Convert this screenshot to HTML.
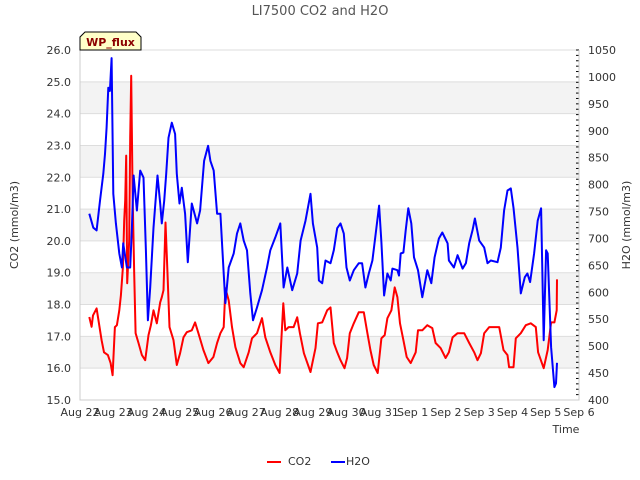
<!DOCTYPE html>
<html><head><meta charset="utf-8">
<style>
body{margin:0;background:#fff;}
svg{display:block;font-family:"DejaVu Sans","Liberation Sans",sans-serif;}
</style></head>
<body>
<svg id="chart" width="640" height="480" viewBox="0 0 640 480">
<text x="320" y="15" text-anchor="middle" font-size="13" fill="#555">LI7500 CO2 and H2O</text>
<g id="bands"></g><g id="grid"></g><g id="axes"></g><g id="series"></g>
<text transform="translate(18,225) rotate(-90)" text-anchor="middle" font-size="11" fill="#333">CO2 (mmol/m3)</text>
<text transform="translate(630,225) rotate(-90)" text-anchor="middle" font-size="11" fill="#333">H2O (mmol/m3)</text>
<text x="566" y="433" text-anchor="middle" font-size="11" fill="#333">Time</text>
<g>
<path d="M80,50 L80,37 L85,32 L136,32 L141,37 L141,50 Z" fill="#ffffc8" stroke="#000" stroke-width="1"/>
<text x="110.5" y="46" text-anchor="middle" font-size="11" font-weight="bold" fill="#8b0000">WP_flux</text>
</g>
<g>
<g><line x1="267" y1="462" x2="281" y2="462" stroke="#f00" stroke-width="2"/><text x="288" y="465" font-size="11" fill="#333">CO2</text></g>
<g><line x1="331" y1="462" x2="345" y2="462" stroke="#00f" stroke-width="2"/><text x="346" y="465" font-size="11" fill="#333">H2O</text></g>
</g>
</svg>
<script>
const xLabels=["Aug 22","Aug 23","Aug 24","Aug 25","Aug 26","Aug 27","Aug 28","Aug 29","Aug 30","Aug 31","Sep 1","Sep 2","Sep 3","Sep 4","Sep 5","Sep 6"];
const leftTicks=[15,16,17,18,19,20,21,22,23,24,25,26];
const rightTicks=[400,450,500,550,600,650,700,750,800,850,900,950,1000,1050];
const co2Days=[0.28,0.35,0.39,0.50,0.54,0.65,0.72,0.84,0.92,0.98,1.05,1.11,1.18,1.23,1.29,1.33,1.36,1.39,1.42,1.48,1.51,1.54,1.58,1.63,1.67,1.76,1.86,1.96,2.06,2.13,2.21,2.31,2.41,2.46,2.51,2.57,2.63,2.69,2.81,2.91,3.01,3.11,3.21,3.36,3.46,3.56,3.71,3.86,4.01,4.12,4.22,4.32,4.37,4.47,4.57,4.67,4.82,4.92,5.07,5.17,5.32,5.47,5.57,5.72,5.87,6.00,6.11,6.17,6.27,6.42,6.53,6.61,6.73,6.93,7.08,7.15,7.28,7.43,7.53,7.63,7.73,7.83,7.95,8.03,8.11,8.23,8.38,8.53,8.64,8.73,8.83,8.95,9.06,9.16,9.24,9.36,9.46,9.54,9.62,9.72,9.82,9.94,10.09,10.16,10.29,10.44,10.59,10.69,10.84,10.99,11.09,11.20,11.35,11.55,11.70,11.85,11.95,12.05,12.15,12.30,12.45,12.60,12.73,12.85,12.90,13.03,13.10,13.25,13.40,13.55,13.70,13.77,13.94,14.06,14.16,14.26,14.33,14.34];
const co2Values=[17.61,17.30,17.66,17.88,17.60,16.88,16.50,16.41,16.16,15.78,17.29,17.35,17.82,18.29,19.17,20.64,21.27,22.68,18.67,20.01,23.24,25.19,21.49,18.98,17.10,16.79,16.41,16.25,17.04,17.35,17.82,17.41,18.07,18.23,18.45,20.58,18.98,17.29,16.88,16.10,16.47,16.97,17.13,17.19,17.44,17.10,16.57,16.16,16.35,16.79,17.10,17.29,18.51,18.13,17.29,16.66,16.16,16.03,16.50,16.94,17.10,17.57,16.97,16.50,16.10,15.85,18.04,17.19,17.29,17.29,17.60,17.10,16.47,15.88,16.63,17.41,17.44,17.82,17.91,16.79,16.50,16.25,16.00,16.32,17.10,17.41,17.76,17.76,17.10,16.57,16.10,15.85,16.94,17.04,17.57,17.82,18.54,18.23,17.41,16.88,16.35,16.16,16.50,17.19,17.19,17.35,17.26,16.79,16.63,16.32,16.50,16.97,17.10,17.10,16.79,16.50,16.25,16.47,17.10,17.29,17.29,17.29,16.57,16.41,16.03,16.03,16.94,17.10,17.35,17.41,17.29,16.50,16.00,16.57,17.44,17.44,17.82,18.79];
const h2oDays=[0.28,0.40,0.50,0.60,0.70,0.75,0.80,0.85,0.90,0.95,1.00,1.08,1.18,1.26,1.30,1.41,1.51,1.56,1.61,1.71,1.81,1.91,1.98,2.04,2.11,2.21,2.33,2.41,2.46,2.53,2.59,2.66,2.76,2.86,2.91,2.99,3.06,3.16,3.24,3.36,3.52,3.61,3.73,3.85,3.92,4.02,4.12,4.22,4.32,4.37,4.47,4.62,4.72,4.82,4.92,5.02,5.12,5.20,5.32,5.47,5.62,5.72,5.87,6.02,6.12,6.23,6.38,6.53,6.63,6.78,6.93,7.00,7.13,7.18,7.28,7.38,7.53,7.63,7.73,7.83,7.93,8.01,8.11,8.23,8.38,8.48,8.58,8.68,8.79,8.89,8.99,9.06,9.14,9.24,9.34,9.39,9.54,9.59,9.64,9.72,9.79,9.87,9.96,10.04,10.16,10.29,10.44,10.56,10.66,10.79,10.89,11.05,11.09,11.24,11.35,11.50,11.60,11.70,11.80,11.87,12.00,12.15,12.25,12.35,12.55,12.65,12.75,12.85,12.95,13.03,13.15,13.25,13.37,13.45,13.53,13.65,13.76,13.86,13.94,14.01,14.06,14.16,14.26,14.31,14.34];
const h2oValues=[746,720,715,770,820,857,906,980,974,1035,783,728,672,646,691,646,646,720,817,752,826,813,678,548,609,720,817,765,728,770,820,887,915,894,820,765,794,746,656,765,728,752,844,872,844,826,746,746,635,580,646,672,709,728,696,678,598,548,572,604,646,678,702,728,609,646,604,635,696,733,783,728,683,622,617,659,654,678,719,728,709,646,622,641,654,654,609,635,659,709,761,693,594,635,622,644,641,631,672,674,715,756,728,665,641,591,641,617,665,700,711,691,659,646,669,644,654,691,715,737,696,683,654,659,656,683,752,789,793,757,683,598,628,635,619,672,733,756,511,678,672,498,424,431,469];

const NS="http://www.w3.org/2000/svg";
const X0=80,X1=579,YT=50,YB=400;
const xScale=d=>X0+d*(X1-X0)/15;
const yL=v=>YB-(v-15)*(YB-YT)/11;
const yR=v=>YB-(v-400)*(YB-YT)/650;
function mk(tag,attrs,parent){const e=document.createElementNS(NS,tag);for(const k in attrs)e.setAttribute(k,attrs[k]);parent.appendChild(e);return e;}
const bands=document.getElementById('bands'),grid=document.getElementById('grid'),axes=document.getElementById('axes'),series=document.getElementById('series');
for(let v=16;v<25;v+=2){
  const r=mk('rect',{x:X0,y:yL(v+1),width:X1-X0,height:yL(v)-yL(v+1),fill:'#f3f3f3'},bands);
  
  
}
leftTicks.forEach(v=>{
  if(v>15){const l=mk('line',{x1:X0,x2:X1,y1:yL(v),y2:yL(v),stroke:'#ddd','stroke-width':1},grid);
  
  }
  const t=mk('text',{x:71,y:yL(v)+4,'text-anchor':'end','font-size':11,fill:'#333'},axes);t.textContent=v.toFixed(1);
  
  
});
rightTicks.forEach(v=>{
  const t=mk('text',{x:588,y:yR(v)+4,'font-size':11,fill:'#333'},axes);t.textContent=v;
  
  
});
for(let v=400;v<=1050;v+=10){
  const major=v%50===0;
  const l=mk('line',{x1:X1-(major?0:3),x2:X1+(major?0:0)+ (major?0:0),y1:yR(v),y2:yR(v),stroke:'#000','stroke-width':1},axes);
  l.setAttribute('x1',X1-3);l.setAttribute('x2',X1);
  
  
}
xLabels.forEach((s,i)=>{
  const t=mk('text',{x:xScale(i),y:416,'text-anchor':'middle','font-size':11,fill:'#333'},axes);t.textContent=s;
  
  
});
const ax=mk('path',{d:`M${X0},${YT}V${YB}H${X1}V${YT}`,fill:'none',stroke:'#ccc','stroke-width':1},axes);


function line(days,vals,ys,color,name){
  const d=days.map((t,i)=>(i?'L':'M')+xScale(t).toFixed(1)+','+ys(vals[i]).toFixed(1)).join('');
  const p=mk('path',{d:d,fill:'none',stroke:color,'stroke-width':2,'stroke-linejoin':'round'},series);
  
  
}
line(co2Days,co2Values,yL,'#f00','co2-line');
line(h2oDays,h2oValues,yR,'#00f','h2o-line');
</script>
</body></html>
